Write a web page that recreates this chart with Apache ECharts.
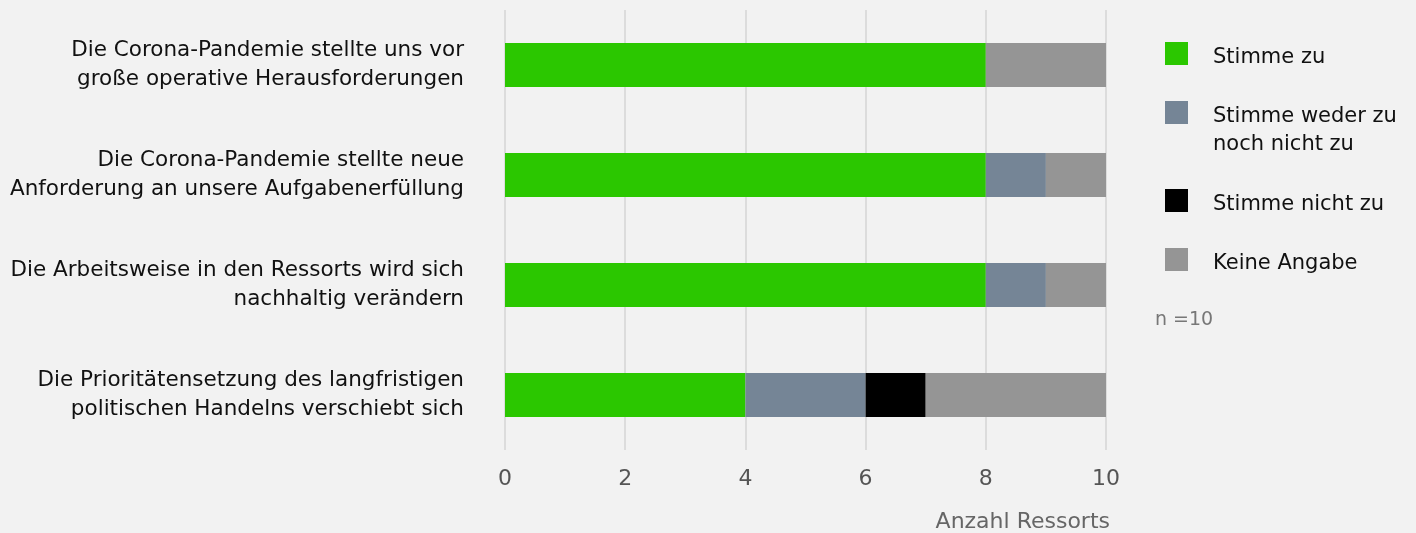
<!DOCTYPE html>
<html><head><meta charset="utf-8">
<script src="https://cdn.jsdelivr.net/npm/echarts@6/dist/echarts.min.js"></script>
<style>html,body{margin:0;padding:0;background:#f2f2f2;}#c{width:1416px;height:533px;}</style>
</head><body><div id="c"></div>
<script>
const categories = [
  "Die Corona-Pandemie stellte uns vor\ngroße operative Herausforderungen",
  "Die Corona-Pandemie stellte neue\nAnforderung an unsere Aufgabenerfüllung",
  "Die Arbeitsweise in den Ressorts wird sich\nnachhaltig verändern",
  "Die Prioritätensetzung des langfristigen\npolitischen Handelns verschiebt sich"
];
const seriesNames = ["Stimme zu", "Stimme weder zu\nnoch nicht zu", "Stimme nicht zu", "Keine Angabe"];
const stimmeZu = [8, 8, 8, 4];
const weder = [0, 1, 1, 2];
const nichtZu = [0, 0, 0, 1];
const keineAngabe = [2, 1, 1, 3];
const colors = ["#2bc700", "#758596", "#000000", "#959595"];
const xTicks = [0, 2, 4, 6, 8, 10];
const FONT = "DejaVu Sans";

const values = [stimmeZu, weder, nichtZu, keineAngabe];
const chart = echarts.init(document.getElementById('c'));
const legendTops = [42, 101, 189, 248];
const graphic = [];
seriesNames.forEach((n, i) => {
  graphic.push({type:'rect', left:1165, top:legendTops[i], shape:{width:23,height:23}, style:{fill:colors[i]}});
  graphic.push({type:'text', left:1213, top:legendTops[i]+2, style:{text:n, font:'21px '+FONT, fill:'#111', lineHeight:28}});
});
graphic.push({type:'text', left:1155, top:311, style:{text:'n =10', font:'19px '+FONT, fill:'#777'}});
graphic.push({type:'text', right:306, top:511, style:{text:'Anzahl Ressorts', font:'22px '+FONT, fill:'#666', textAlign:'right'}});

chart.setOption({
  backgroundColor:'#f2f2f2',
  animation:false,
  grid:{left:505, right:310, top:10, bottom:83},
  xAxis:{type:'value', min:0, max:10, interval:2,
    axisLine:{show:false}, axisTick:{show:false},
    splitLine:{lineStyle:{color:'#dcdcdc', width:2}},
    axisLabel:{color:'#555', fontSize:22, fontFamily:FONT, margin:18}},
  yAxis:{type:'category', data:categories, inverse:true,
    axisLine:{show:false}, axisTick:{show:false},
    axisLabel:{color:'#111', fontSize:21.5, fontFamily:FONT, lineHeight:29, margin:41, align:'right'}},
  graphic: graphic,
  series: seriesNames.map((n, i) => ({
    name:n, type:'bar', stack:'s', data:values[i], barWidth:44,
    itemStyle:{color:colors[i]}
  }))
});
</script></body></html>
